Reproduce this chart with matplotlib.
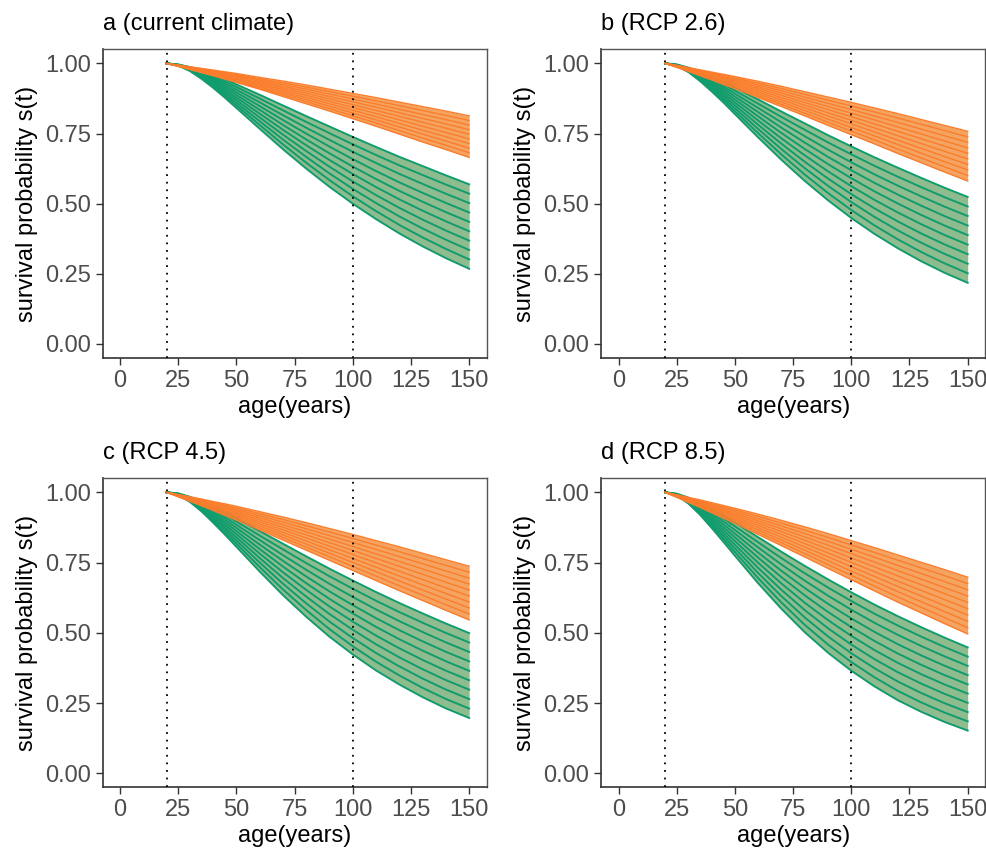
import numpy as np
import matplotlib.pyplot as plt

plt.rcParams['font.family'] = ['Liberation Sans', 'DejaVu Sans']

# ages (years) at which the curves were read
ages = [20, 25, 30, 35, 40, 45, 50, 60, 70, 80, 90, 100, 110, 120, 130, 140, 150]

titles = ["a (current climate)", "b (RCP 2.6)", "c (RCP 4.5)", "d (RCP 8.5)"]

# band edges, survival probability s(t)
orange_hi_a = [1.000, 0.994, 0.988, 0.982, 0.976, 0.970, 0.964, 0.950, 0.937, 0.923, 0.908, 0.893, 0.878, 0.862, 0.846, 0.830, 0.813]
orange_lo_a = [1.000, 0.989, 0.978, 0.967, 0.956, 0.944, 0.932, 0.908, 0.882, 0.856, 0.830, 0.803, 0.776, 0.748, 0.720, 0.693, 0.665]
green_hi_a = [1.000, 0.996, 0.987, 0.975, 0.960, 0.943, 0.925, 0.888, 0.850, 0.812, 0.775, 0.738, 0.702, 0.667, 0.634, 0.601, 0.569]
green_lo_a = [1.000, 0.992, 0.973, 0.945, 0.913, 0.878, 0.841, 0.767, 0.694, 0.625, 0.560, 0.500, 0.445, 0.394, 0.348, 0.306, 0.268]

orange_hi_b = [1.000, 0.993, 0.985, 0.977, 0.969, 0.961, 0.953, 0.936, 0.918, 0.899, 0.880, 0.861, 0.841, 0.821, 0.800, 0.779, 0.758]
orange_lo_b = [1.000, 0.986, 0.971, 0.956, 0.941, 0.925, 0.910, 0.878, 0.846, 0.813, 0.779, 0.746, 0.713, 0.679, 0.646, 0.613, 0.581]
green_hi_b = [1.000, 0.996, 0.985, 0.971, 0.953, 0.934, 0.913, 0.871, 0.828, 0.786, 0.744, 0.704, 0.665, 0.628, 0.592, 0.557, 0.524]
green_lo_b = [1.000, 0.991, 0.969, 0.937, 0.900, 0.861, 0.819, 0.736, 0.656, 0.581, 0.512, 0.449, 0.392, 0.341, 0.295, 0.254, 0.218]

orange_hi_c = [1.000, 0.992, 0.984, 0.976, 0.967, 0.959, 0.950, 0.931, 0.912, 0.892, 0.871, 0.850, 0.828, 0.806, 0.783, 0.760, 0.737]
orange_lo_c = [1.000, 0.984, 0.968, 0.952, 0.935, 0.918, 0.901, 0.866, 0.830, 0.794, 0.758, 0.722, 0.686, 0.650, 0.615, 0.580, 0.546]
green_hi_c = [1.000, 0.996, 0.984, 0.969, 0.950, 0.929, 0.907, 0.862, 0.817, 0.772, 0.728, 0.686, 0.645, 0.606, 0.569, 0.533, 0.499]
green_lo_c = [1.000, 0.990, 0.966, 0.932, 0.892, 0.850, 0.806, 0.718, 0.634, 0.557, 0.486, 0.423, 0.366, 0.316, 0.271, 0.231, 0.197]

orange_hi_d = [1.000, 0.991, 0.982, 0.973, 0.963, 0.953, 0.943, 0.922, 0.900, 0.877, 0.853, 0.828, 0.803, 0.777, 0.751, 0.725, 0.698]
orange_lo_d = [1.000, 0.982, 0.964, 0.946, 0.927, 0.908, 0.889, 0.850, 0.810, 0.770, 0.729, 0.689, 0.649, 0.609, 0.571, 0.533, 0.496]
green_hi_d = [1.000, 0.995, 0.981, 0.963, 0.941, 0.917, 0.892, 0.840, 0.788, 0.738, 0.690, 0.644, 0.600, 0.559, 0.520, 0.483, 0.448]
green_lo_d = [1.000, 0.989, 0.960, 0.920, 0.873, 0.824, 0.774, 0.676, 0.585, 0.502, 0.429, 0.365, 0.309, 0.260, 0.219, 0.183, 0.152]

vlines = [20, 100]
xticks = [0, 25, 50, 75, 100, 125, 150]
yticks = [0.00, 0.25, 0.50, 0.75, 1.00]
N_LINES = 10  # curves per band, edges included

bands = [
    (orange_hi_a, orange_lo_a, green_hi_a, green_lo_a),
    (orange_hi_b, orange_lo_b, green_hi_b, green_lo_b),
    (orange_hi_c, orange_lo_c, green_hi_c, green_lo_c),
    (orange_hi_d, orange_lo_d, green_hi_d, green_lo_d),
]

GREEN_LINE = '#109c6d'
GREEN_FILL = '#8fbc8f'
ORANGE_LINE = '#fb7d2c'
ORANGE_FILL = '#f4a460'

fig = plt.figure(figsize=(9.87, 8.51), dpi=100)
positions = [
    [0.104, 0.5793, 0.389, 0.3627],
    [0.6091, 0.5793, 0.389, 0.3627],
    [0.104, 0.0748, 0.389, 0.3632],
    [0.6091, 0.0748, 0.389, 0.3632],
]


def draw_band(ax, hi, lo, line_col, fill_col, lw):
    x = np.array(ages)
    hi = np.array(hi)
    lo = np.array(lo)
    ax.fill_between(x, lo, hi, color=fill_col, lw=0, zorder=2)
    for f in np.linspace(0, 1, N_LINES):
        ax.plot(x, lo + f * (hi - lo), color=line_col, lw=lw, zorder=3,
                solid_joinstyle='round')


for pos, title, (o_hi, o_lo, g_hi, g_lo) in zip(positions, titles, bands):
    ax = fig.add_axes(pos)
    draw_band(ax, g_hi, g_lo, GREEN_LINE, GREEN_FILL, 1.4)
    draw_band(ax, o_hi, o_lo, ORANGE_LINE, ORANGE_FILL, 1.0)
    for v in vlines:
        ax.axvline(v, color='black', lw=1.3, ls=(0, (1, 3.2)), zorder=4)

    ax.set_xlim(-7.5, 157.5)
    ax.set_ylim(-0.05, 1.05)
    ax.set_xticks(xticks)
    ax.set_yticks(yticks)
    ax.set_yticklabels(['%.2f' % v for v in yticks])
    ax.tick_params(labelsize=17, labelcolor='#4d4d4d', color='#333333',
                   length=5, width=1)
    for side in ['left', 'bottom']:
        ax.spines[side].set_color('#333333')
        ax.spines[side].set_linewidth(1.2)
    for side in ['top', 'right']:
        ax.spines[side].set_color('#555555')
        ax.spines[side].set_linewidth(1.0)
    ax.set_xlabel('age(years)', fontsize=17, labelpad=3)
    ax.set_ylabel('survival probability s(t)', fontsize=17, labelpad=5)
    ax.set_title(title, loc='left', fontsize=17, pad=14)

fig.savefig('out.png', dpi=100)
